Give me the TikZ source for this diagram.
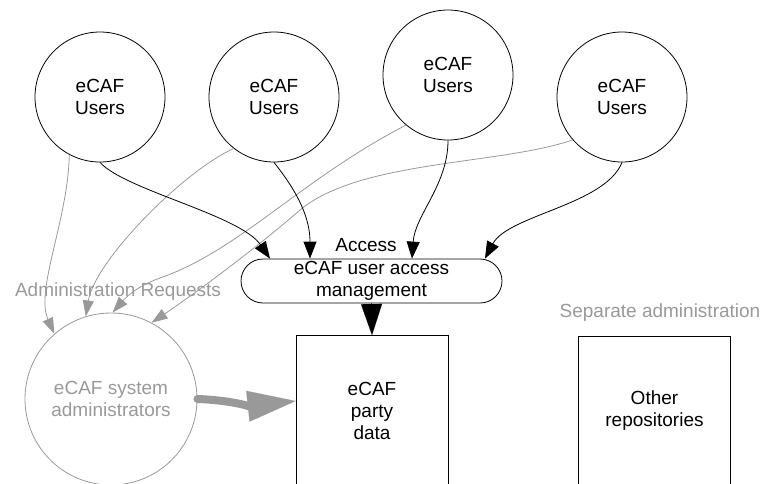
\documentclass[tikz,border=0pt]{standalone}
\usepackage{fontspec}
\setmainfont{Liberation Sans}
\usetikzlibrary{arrows.meta,shapes.misc}

\definecolor{admingray}{RGB}{153,153,153}

\begin{document}
\begin{tikzpicture}[x=1pt,y=-1pt,
  every node/.style={font=\fontsize{19}{22}\selectfont, align=center, inner sep=0pt},
  user/.style={circle, draw, line width=0.8pt, minimum size=130pt},
  sysadmin/.style={circle, draw=admingray, text=admingray, line width=0.8pt, minimum size=172pt},
  store/.style={rectangle, draw, line width=0.8pt, minimum width=152pt, minimum height=150pt},
  process/.style={rounded rectangle, draw, line width=0.8pt, minimum width=261pt, minimum height=44pt},
  accessline/.style={line width=0.8pt, -{Triangle[length=17pt,width=13pt]}},
  request/.style={line width=0.8pt, draw=admingray, admingray, -{Triangle[length=16pt,width=11pt]}},
  note/.style={text=admingray},
]
\useasboundingbox (0,0) rectangle (763,483);
\clip (0,0) rectangle (763,483);

% users
\node[user] (u1) at (100,97) {eCAF\\Users};
\node[user] (u2) at (274,97) {eCAF\\Users};
\node[user] (u3) at (448,75) {eCAF\\Users};
\node[user] (u4) at (622,97) {eCAF\\Users};

% access layer and repositories
\node[process] (acc) at (371.5,281) {eCAF user access\\management};
\node (acclabel) at (366,245) {Access};
\node[store] (data) at (372,410.5) {eCAF\\party\\data};
\node[store] (other) at (654.5,411) {Other\\repositories};
\node[note] (seplabel) at (660,313) {Separate administration};

% administrators
\node[sysadmin] (admin) at (111,399) {eCAF system\\administrators};
\node[note] (reqlabel) at (118,292) {Administration Requests};

% administration requests
\draw[request] (u1.242) .. controls (68,220) and (35,290) .. (admin.131);
\draw[request] (u2.232) .. controls (185,170) and (95,260) .. (admin.107);
\draw[request] (u3.230) .. controls (300,180) and (240,250) .. (160,278)
                      .. controls (140,285) and (128,295) .. (admin.89);
\draw[request] (u4.221) .. controls (500,165) and (360,160) .. (300,210)
                      .. controls (260,245) and (200,290) .. (admin.62);

% user access
\draw[accessline] (u1.south) .. controls (125,190) and (240,215) .. ([xshift=-101.5pt]acc.north);
\draw[accessline] (u2.south) .. controls (300,195) and (310,220) .. ([xshift=-61.5pt]acc.north);
\draw[accessline] (u3.south) .. controls (448,185) and (415,215) .. ([xshift=40.5pt]acc.north);
\draw[accessline] (u4.south) .. controls (605,205) and (508,215) .. ([xshift=113.5pt]acc.north);

% access to party data
\draw[line width=0.8pt, -{Triangle[length=31pt,width=21pt,line width=0.01pt]}] (acc.south) -- (data.north);

% direct administration
\draw[admingray, line width=8pt, line cap=round,
      -{Triangle[length=48pt,width=31pt,line width=0.01pt]}]
  (admin.east) .. controls (228,400) and (250,406) .. ([yshift=9.5pt]data.west);
\end{tikzpicture}
\end{document}
